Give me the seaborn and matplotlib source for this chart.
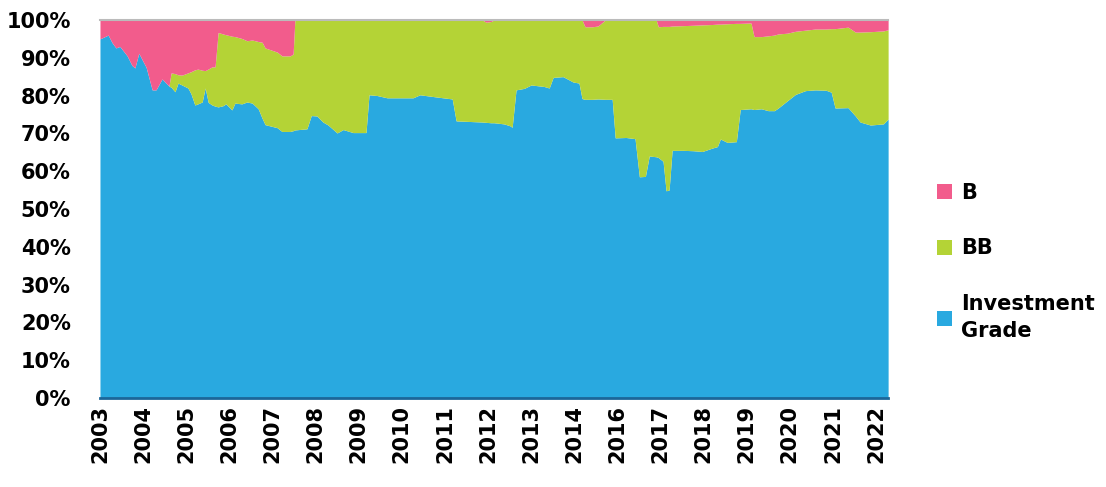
import seaborn as sns
import matplotlib.pyplot as plt
import numpy as np

# Position along the x axis, in label steps (one step per year label)
period = [0.00, 0.19, 0.28, 0.37, 0.46, 0.63, 0.74, 0.81, 0.90, 1.00, 1.07, 1.21, 1.30, 1.44, 1.60,
          1.65, 1.74, 1.81, 1.90, 2.04, 2.11, 2.20, 2.27, 2.37, 2.44, 2.51, 2.60, 2.67, 2.74, 2.85,
          2.92, 3.06, 3.13, 3.29, 3.41, 3.53, 3.67, 3.76, 3.83, 4.11, 4.22, 4.41, 4.48, 4.52, 4.80,
          4.90, 5.03, 5.17, 5.29, 5.50, 5.64, 5.87, 6.17, 6.24, 6.43, 6.66, 7.26, 7.42, 7.82, 8.17,
          8.26, 8.65, 8.86, 8.96, 9.07, 9.14, 9.37, 9.51, 9.56, 9.65, 9.84, 10.00, 10.30, 10.42, 10.51,
          10.74, 10.97, 11.11, 11.18, 11.25, 11.42, 11.55, 11.72, 11.88, 11.95, 12.20, 12.41, 12.51, 12.65, 12.74,
          12.90, 12.95, 13.06, 13.13, 13.20, 13.27, 13.53, 13.76, 13.97, 14.20, 14.32, 14.39, 14.55, 14.76, 14.85,
          15.10, 15.17, 15.34, 15.50, 15.64, 15.73, 15.94, 16.13, 16.36, 16.59, 16.84, 16.96, 17.05, 17.35, 17.52,
          17.63, 17.87, 18.17, 18.28]

investment_grade = [95.0, 96.0, 94.0, 92.6, 93.0, 90.5, 88.0, 87.3, 91.2, 89.0, 87.5, 81.5, 81.5, 84.4, 82.5,
                    82.2, 81.0, 83.3, 82.8, 82.0, 80.5, 77.5, 77.8, 78.3, 82.0, 78.2, 77.5, 77.2, 77.0, 77.3,
                    77.8, 76.2, 78.0, 77.8, 78.3, 78.0, 76.5, 74.0, 72.3, 71.5, 70.5, 70.5, 70.7, 70.9, 71.2,
                    74.7, 74.6, 73.0, 72.2, 70.1, 71.0, 70.2, 70.2, 80.2, 80.0, 79.4, 79.4, 80.2, 79.6, 79.1,
                    73.3, 73.1, 73.0, 72.9, 72.8, 72.8, 72.5, 72.0, 71.6, 81.5, 81.9, 82.8, 82.4, 82.0, 84.8,
                    85.0, 83.6, 83.3, 79.2, 79.0, 79.0, 79.1, 79.0, 79.0, 68.8, 68.9, 68.6, 58.5, 58.6, 64.0,
                    63.8, 63.6, 62.6, 54.8, 55.0, 65.5, 65.5, 65.4, 65.2, 66.1, 66.5, 68.5, 67.6, 67.8, 76.3,
                    76.5, 76.3, 76.5, 76.0, 76.0, 76.7, 78.6, 80.3, 81.3, 81.5, 81.4, 80.9, 76.7, 76.8, 74.6,
                    73.0, 72.2, 72.5, 73.8]

bb = [0.0, 0.0, 0.0, 0.0, 0.0, 0.0, 0.0, 0.0, 0.0, 0.0, 0.0, 0.0, 0.0, 0.0, 0.0,
      3.8, 4.8, 2.2, 2.6, 4.0, 5.8, 9.3, 9.2, 8.4, 4.6, 8.8, 10.1, 10.4, 19.7, 19.0,
      18.3, 19.5, 17.6, 17.3, 16.2, 16.7, 17.8, 20.1, 20.3, 20.0, 20.0, 20.0, 20.3, 29.1, 28.8,
      25.3, 25.4, 27.0, 27.8, 29.9, 29.0, 29.8, 29.8, 19.8, 20.0, 20.6, 20.6, 19.8, 20.4, 20.9,
      26.7, 26.9, 27.0, 26.5, 26.8, 27.2, 27.5, 28.0, 28.4, 18.5, 18.1, 17.2, 17.6, 18.0, 15.2,
      15.0, 16.4, 16.7, 20.8, 19.2, 19.2, 19.3, 21.0, 21.0, 31.2, 31.1, 31.4, 41.5, 41.4, 36.0,
      36.2, 34.6, 35.7, 43.5, 43.3, 32.9, 33.0, 33.2, 33.5, 32.7, 32.4, 30.4, 31.4, 31.3, 22.8,
      22.7, 19.3, 19.1, 19.8, 20.0, 19.6, 17.9, 16.7, 16.0, 16.1, 16.2, 16.8, 21.0, 21.3, 22.2,
      23.8, 24.7, 24.6, 23.6]

b = [5.0, 4.0, 6.0, 7.4, 7.0, 9.5, 12.0, 12.7, 8.8, 11.0, 12.5, 18.5, 18.5, 15.6, 17.5,
     14.0, 14.2, 14.5, 14.6, 14.0, 13.7, 13.2, 13.0, 13.3, 13.4, 13.0, 12.4, 12.4, 3.3, 3.7,
     3.9, 4.3, 4.4, 4.9, 5.5, 5.3, 5.7, 5.9, 7.4, 8.5, 9.5, 9.5, 9.0, 0.0, 0.0,
     0.0, 0.0, 0.0, 0.0, 0.0, 0.0, 0.0, 0.0, 0.0, 0.0, 0.0, 0.0, 0.0, 0.0, 0.0,
     0.0, 0.0, 0.0, 0.6, 0.4, 0.0, 0.0, 0.0, 0.0, 0.0, 0.0, 0.0, 0.0, 0.0, 0.0,
     0.0, 0.0, 0.0, 0.0, 1.8, 1.8, 1.6, 0.0, 0.0, 0.0, 0.0, 0.0, 0.0, 0.0, 0.0,
     0.0, 1.8, 1.7, 1.7, 1.7, 1.6, 1.5, 1.4, 1.3, 1.2, 1.1, 1.1, 1.0, 0.9, 0.9,
     0.8, 4.4, 4.4, 4.2, 4.0, 3.7, 3.5, 3.0, 2.7, 2.4, 2.4, 2.3, 2.3, 1.9, 3.2,
     3.2, 3.1, 2.9, 2.6]

year_labels = ['2003', '2004', '2005', '2006', '2007', '2008', '2009', '2010', '2011', '2012',
               '2013', '2014', '2016', '2017', '2018', '2019', '2020', '2021', '2022']

series_names = ['Investment Grade', 'BB', 'B']
colors = sns.color_palette(['#29A9E0', '#B4D336', '#F25C8C'])

sns.set_theme(style="white")
plt.rcParams['font.family'] = ['DejaVu Sans']
plt.rcParams['text.color'] = '#000000'

fig, ax = plt.subplots(figsize=(11.06, 4.87), dpi=100)
fig.subplots_adjust(left=0.0904, right=0.803, bottom=0.183, top=0.959)

ax.stackplot(period, investment_grade, bb, b, colors=colors, labels=series_names, linewidth=0)

ax.set_xlim(0, period[-1])
ax.set_ylim(0, 100)

ax.set_yticks(np.arange(0, 101, 10))
ax.set_yticklabels([f'{v}%' for v in range(0, 101, 10)], fontsize=15, fontweight='bold')
ax.set_xticks(np.arange(len(year_labels)))
ax.set_xticklabels(year_labels, rotation=90, fontsize=15, fontweight='bold')
ax.tick_params(axis='both', length=0, colors='#000000')
ax.tick_params(axis='y', pad=21)
ax.tick_params(axis='x', pad=5)

for side in ['left', 'right']:
    ax.spines[side].set_visible(False)
ax.spines['top'].set_color('#BBBBBB')
ax.spines['top'].set_linewidth(1.5)
ax.spines['bottom'].set_color('#1B6699')
ax.spines['bottom'].set_linewidth(2)

handles, labels = ax.get_legend_handles_labels()
labels = ['Investment\nGrade' if l == 'Investment Grade' else l for l in labels]
leg = fig.legend(handles[::-1], labels[::-1], loc='center left', bbox_to_anchor=(0.83, 0.462),
                 frameon=False, handlelength=0.75, handleheight=0.75, handletextpad=0.4,
                 labelspacing=1.7, prop={'size': 15, 'weight': 'bold'})
for t in leg.get_texts():
    t.set_linespacing(1.45)
    t.set_color('#000000')

plt.savefig('out.png', dpi=100)
